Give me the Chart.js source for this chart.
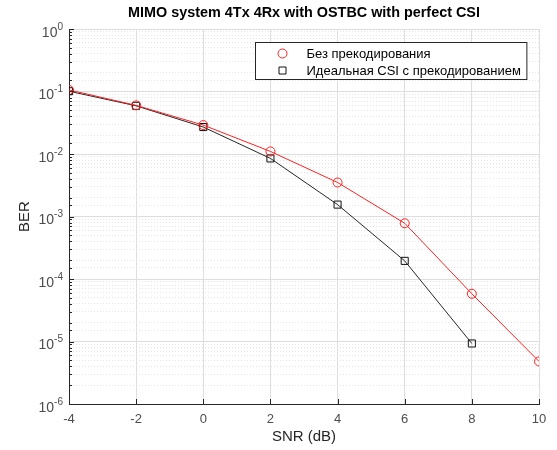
<!DOCTYPE html>
<html>
<head>
<meta charset="utf-8">
<script src="https://cdn.jsdelivr.net/npm/chart.js@4/dist/chart.umd.min.js"></script>
<style>
  html, body { margin: 0; padding: 0; background: #fff; }
  #wrap { width: 557px; height: 450px; }
</style>
</head>
<body>
<div id="wrap"><canvas id="ber" width="557" height="450"></canvas></div>
<script>
const FONT = "'Liberation Sans', Arial, Helvetica, sans-serif";

// data
const snrDb = [-4, -2, 0, 2, 4, 6, 8, 10];
const berNoPrecoding = [0.106, 0.060, 0.029, 0.011, 0.0035, 7.8e-4, 5.8e-5, 4.8e-6];
const berPerfectCsi = [0.101, 0.059, 0.027, 0.0085, 0.00155, 1.95e-4, 9.3e-6];
const seriesLabels = ["Без прекодирования", "Идеальная CSI с прекодированием"];
const xTicks = [-4, -2, 0, 2, 4, 6, 8, 10];
const titleText = "MIMO system 4Tx 4Rx with OSTBC with perfect CSI";

const toPoints = (ys) => ys.map((y, i) => ({ x: snrDb[i], y }));

// title over the axes, y labels as 10^n, inward ticks and the boxed legend (MATLAB look)
const matlabBits = {
  id: "matlabBits",
  afterDraw(chart) {
    const { ctx, chartArea: a } = chart;
    const ys = chart.scales.y, xs = chart.scales.x;
    ctx.save();

    // title centred on the axes, not the canvas
    ctx.fillStyle = "#000";
    ctx.font = "bold 14.4px " + FONT;
    ctx.textAlign = "center";
    ctx.textBaseline = "middle";
    ctx.fillText(titleText, (a.left + a.right) / 2, 13);

    // inward ticks
    ctx.strokeStyle = "#262626";
    ctx.lineWidth = 1;
    ctx.beginPath();
    ys.ticks.forEach(t => {
      const py = Math.round(ys.getPixelForValue(t.value)) + 0.5;
      const len = t.major ? 5 : 3;
      ctx.moveTo(a.left, py);
      ctx.lineTo(a.left + len, py);
    });
    xs.ticks.forEach(t => {
      const px = Math.round(xs.getPixelForValue(t.value)) + 0.5;
      ctx.moveTo(px, a.bottom);
      ctx.lineTo(px, a.bottom - 5);
    });
    ctx.stroke();

    // y tick labels
    ctx.fillStyle = "#4d4d4d";
    ctx.textBaseline = "middle";
    ctx.textAlign = "left";
    ys.ticks.filter(t => t.major).forEach(t => {
      const py = ys.getPixelForValue(t.value);
      const ex = String(Math.round(Math.log10(t.value)));
      ctx.font = "10px " + FONT;
      const we = ctx.measureText(ex).width;
      ctx.font = "14px " + FONT;
      const wb = ctx.measureText("10").width;
      const right = a.left - 6;
      ctx.fillText("10", right - we - wb, py + 4);
      ctx.font = "10px " + FONT;
      ctx.fillText(ex, right - we, py - 2);
    });

    // legend
    ctx.font = "13px " + FONT;
    const maxW = Math.max(...seriesLabels.map(s => ctx.measureText(s).width));
    const bw = 51 + maxW + 6, bh = 37;
    const bx = Math.round(a.right - 13 - bw) + 0.5, by = Math.round(a.top + 13) + 0.5;
    ctx.fillStyle = "#fff";
    ctx.fillRect(bx, by, bw, bh);
    ctx.strokeStyle = "#262626";
    ctx.strokeRect(bx, by, bw, bh);
    chart.data.datasets.forEach((ds, i) => {
      const ry = by + 11 + i * 17;
      const mx = bx + 27;
      ctx.strokeStyle = ds.pointBorderColor;
      ctx.lineWidth = 1;
      ctx.beginPath();
      if (ds.pointStyle === "circle") {
        ctx.arc(mx, ry, 4.5, 0, Math.PI * 2);
      } else {
        ctx.rect(mx - 3.5, ry - 3.5, 7, 7);
      }
      ctx.stroke();
      ctx.fillStyle = "#000";
      ctx.textAlign = "left";
      ctx.fillText(ds.label, bx + 51, ry + 1);
    });
    ctx.restore();
  }
};

new Chart(document.getElementById("ber"), {
  type: "line",
  data: {
    datasets: [
      {
        label: seriesLabels[0],
        data: toPoints(berNoPrecoding),
        borderColor: "#ff2020",
        borderWidth: 1,
        pointStyle: "circle",
        pointRadius: 4.5,
        pointBorderColor: "#ff2020",
        pointBackgroundColor: "rgba(0,0,0,0)",
        pointBorderWidth: 1
      },
      {
        label: seriesLabels[1],
        data: toPoints(berPerfectCsi),
        borderColor: "#262626",
        borderWidth: 1,
        pointStyle: "rect",
        pointRadius: 5,
        pointBorderColor: "#111",
        pointBackgroundColor: "rgba(0,0,0,0)",
        pointBorderWidth: 1
      }
    ]
  },
  options: {
    responsive: false,
    animation: false,
    devicePixelRatio: 1,
    layout: { padding: { left: 0, right: 18, top: 29, bottom: 0 } },
    plugins: {
      legend: { display: false },
      tooltip: { enabled: false },
      title: { display: false }
    },
    scales: {
      x: {
        type: "linear",
        min: -4,
        max: 10,
        afterBuildTicks: (s) => { s.ticks = xTicks.map(v => ({ value: v })); },
        afterFit: (s) => { s.height = 46; },
        ticks: {
          color: "#4d4d4d",
          font: { family: FONT, size: 13 },
          padding: 8,
          maxRotation: 0,
          autoSkip: false
        },
        grid: { color: "#dedede", drawTicks: false },
        border: { color: "#262626", width: 1 },
        title: {
          display: true,
          text: "SNR (dB)",
          color: "#262626",
          font: { family: FONT, size: 15 },
          padding: { top: 0, bottom: 4 }
        }
      },
      y: {
        type: "logarithmic",
        min: 1e-6,
        max: 1,
        afterFit: (s) => { s.width = 69; },
        ticks: {
          callback: () => "",
          autoSkip: false
        },
        grid: {
          drawTicks: false,
          color: (c) => (c.tick && !c.tick.major ? "#e4e4e4" : "#dedede")
        },
        border: {
          color: "#262626",
          width: 1,
          dash: (c) => (c.tick && !c.tick.major ? [1, 2] : [])
        },
        title: {
          display: true,
          text: "BER",
          color: "#262626",
          font: { family: FONT, size: 15 },
          padding: { top: 16, bottom: 0 }
        }
      }
    }
  },
  plugins: [matlabBits]
});
</script>
</body>
</html>
